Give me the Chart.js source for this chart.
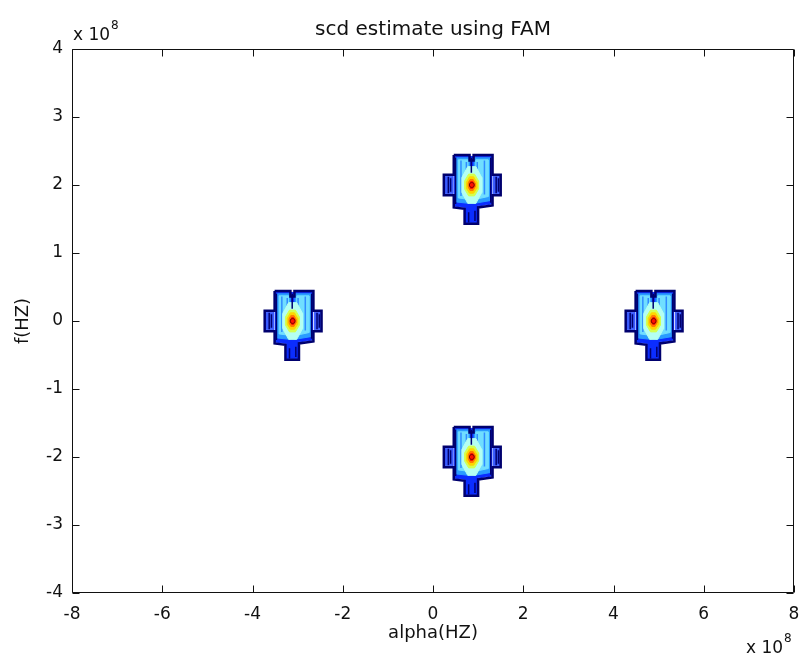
<!DOCTYPE html>
<html><head><meta charset="utf-8">
<script src="https://cdn.jsdelivr.net/npm/chart.js@4/dist/chart.umd.min.js"></script>
<style>html,body{margin:0;padding:0;background:#fff;}#wrap{width:799px;height:655px;}</style>
</head><body><div id="wrap"><canvas id="c" width="799" height="655"></canvas></div>
<script>
// ---- text ----
const chartTitle = 'scd estimate using FAM';
const xAxisLabel = 'alpha(HZ)';
const yAxisLabel = 'f(HZ)';
const axisExponent = '8';
// ---- tick values (units of 1e8 Hz) ----
const xTickValues = [-8, -6, -4, -2, 0, 2, 4, 6, 8];
const yTickValues = [-4, -3, -2, -1, 0, 1, 2, 3, 4];
// ---- cluster centres (alpha, f) in units of 1e8 Hz ----
const clusterAlpha = [0.84, -3.13, 4.87, 0.84];
const clusterFreq  = [2.0, 0.0, 0.0, -2.0];
// ---- contour level outlines, offsets (alpha, f) from each centre ----
const contourOuter = [[-0.38,0.44],[-0.03,0.44],[-0.03,0.36],[0.06,0.36],[0.06,0.44],[0.48,0.44],[0.48,0.15],[0.66,0.15],[0.66,-0.15],[0.48,-0.15],[0.48,-0.30],[0.16,-0.33],[0.16,-0.57],[-0.14,-0.57],[-0.14,-0.35],[-0.38,-0.33],[-0.38,-0.15],[-0.60,-0.15],[-0.60,0.15],[-0.38,0.15],[-0.38,0.44]];
const contourInnerLines = [
  [[-0.50,0.12],[-0.50,-0.12]],
  [[-0.45,0.10],[-0.45,-0.10]],
  [[0.56,0.12],[0.56,-0.12]],
  [[0.61,0.10],[0.61,-0.10]],
  [[0.01,0.40],[0.01,0.18]],
  [[-0.34,0.40],[-0.34,-0.28]],
  [[0.44,0.40],[0.44,-0.26]],
  [[-0.05,-0.40],[-0.05,-0.55]],
  [[0.09,-0.38],[0.09,-0.53]]
];
const contourStripes = [
  [[-0.22,0.36],[-0.22,-0.16]],
  [[0.30,0.36],[0.30,-0.14]],
  [[-0.10,0.34],[-0.10,0.22]],
  [[0.14,0.34],[0.14,0.22]]
];
const contourWingLeft  = [[-0.58,0.13],[-0.40,0.13],[-0.40,-0.13],[-0.58,-0.13],[-0.58,0.13]];
const contourWingRight = [[0.50,0.13],[0.64,0.13],[0.64,-0.13],[0.50,-0.13],[0.50,0.13]];
const contourBody = [[-0.36,0.42],[0.46,0.42],[0.46,-0.28],[0.14,-0.31],[0.14,-0.55],[-0.12,-0.55],[-0.12,-0.33],[-0.36,-0.31],[-0.36,0.42]];
const contourMidLeft  = [[-0.32,0.40],[-0.04,0.40],[-0.04,-0.27],[-0.32,-0.25],[-0.32,0.40]];
const contourMidRight = [[0.07,0.40],[0.42,0.40],[0.42,-0.23],[0.07,-0.27],[0.07,0.40]];
const contourLightLeft  = [[-0.28,0.37],[-0.07,0.37],[-0.07,-0.21],[-0.28,-0.19],[-0.28,0.37]];
const contourLightRight = [[0.11,0.37],[0.38,0.37],[0.38,-0.17],[0.11,-0.21],[0.11,0.37]];
const contourPale   = [[-0.07,0.27],[0.11,0.27],[0.24,0.11],[0.24,-0.11],[0.11,-0.27],[-0.07,-0.27],[-0.20,-0.11],[-0.20,0.11],[-0.07,0.27]];
const contourGreen  = [[-0.05,0.16],[0.08,0.16],[0.17,0.06],[0.17,-0.06],[0.08,-0.16],[-0.05,-0.16],[-0.14,-0.06],[-0.14,0.06],[-0.05,0.16]];
const contourYellow = [[-0.03,0.12],[0.06,0.12],[0.13,0.04],[0.13,-0.05],[0.06,-0.12],[-0.03,-0.12],[-0.10,-0.05],[-0.10,0.04],[-0.03,0.12]];
const contourOrange = [[-0.02,0.08],[0.05,0.08],[0.09,0.03],[0.09,-0.03],[0.05,-0.08],[-0.02,-0.08],[-0.06,-0.03],[-0.06,0.03],[-0.02,0.08]];
const contourRed    = [[0.00,0.05],[0.04,0.05],[0.06,0.02],[0.06,-0.02],[0.04,-0.05],[0.00,-0.05],[-0.02,-0.02],[-0.02,0.02],[0.00,0.05]];

// filled levels: [shape, colour, draw order (higher = further back)]
const filledLevels = [
  [contourWingLeft, '#3a5cff', 10], [contourWingRight, '#3a5cff', 10],
  [contourBody, '#0b2dff', 9],
  [contourMidLeft, '#2a9cff', 8], [contourMidRight, '#2a9cff', 8],
  [contourLightLeft, '#70deff', 7], [contourLightRight, '#70deff', 7],
  [contourPale, '#b4fff2', 6],
  [contourGreen, '#d4ff50', 5],
  [contourYellow, '#ffd400', 4],
  [contourOrange, '#ff7a00', 3],
  [contourRed, '#ff1000', 2]
];

function place(shape, cx, cy) { return shape.map(p => ({x: cx + p[0], y: cy + p[1]})); }

const datasets = [];
for (let i = 0; i < clusterAlpha.length; i++) {
  const cx = clusterAlpha[i], cy = clusterFreq[i];
  filledLevels.forEach(([shape, col, ord]) => {
    datasets.push({data: place(shape, cx, cy), showLine: true, fill: 'shape', backgroundColor: col,
      borderColor: col, borderWidth: 1, pointRadius: 0, order: ord});
  });
  contourStripes.forEach(seg => {
    datasets.push({data: place(seg, cx, cy), showLine: true, fill: false, borderColor: '#2f8cff',
      borderWidth: 1.5, pointRadius: 0, order: 6.5});
  });
  datasets.push({data: place(contourOuter, cx, cy), showLine: true, fill: false, borderColor: '#00006e',
    borderWidth: 2.5, pointRadius: 0, order: 1});
  contourInnerLines.forEach(seg => {
    datasets.push({data: place(seg, cx, cy), showLine: true, fill: false, borderColor: '#00006e',
      borderWidth: 1.5, pointRadius: 0, order: 1});
  });
  datasets.push({data: [{x: cx + 0.02, y: cy}], showLine: false, pointRadius: 2.5, pointBorderWidth: 1,
    pointBorderColor: '#7a0000', pointBackgroundColor: 'rgba(0,0,0,0)', order: 0});
}

const FONT = 'DejaVu Sans';
const matlabAxes = {
  id: 'matlabAxes',
  afterDraw(chart) {
    const {ctx, chartArea: a, scales: {x, y}} = chart;
    ctx.save();
    ctx.strokeStyle = '#111';
    ctx.lineWidth = 1;
    const L = Math.round(a.left) + 0.5, R = Math.round(a.right) - 0.5;
    const T = Math.round(a.top) + 0.5, B = Math.round(a.bottom) - 0.5;
    ctx.beginPath();
    ctx.rect(L, T, R - L, B - T);
    xTickValues.forEach(v => {
      const px = Math.round(x.getPixelForValue(v)) + 0.5;
      ctx.moveTo(px, B); ctx.lineTo(px, B - 7);
      ctx.moveTo(px, T); ctx.lineTo(px, T + 7);
    });
    yTickValues.forEach(v => {
      const py = Math.round(y.getPixelForValue(v)) + 0.5;
      ctx.moveTo(L, py); ctx.lineTo(L + 7, py);
      ctx.moveTo(R, py); ctx.lineTo(R - 7, py);
    });
    ctx.stroke();
    ctx.fillStyle = '#111';
    // title, centred over the plot area
    ctx.textAlign = 'center';
    ctx.textBaseline = 'alphabetic';
    ctx.font = '20px "' + FONT + '"';
    ctx.fillText(chartTitle, (a.left + a.right) / 2, 35);
    // exponent labels
    ctx.textAlign = 'left';
    ctx.font = '17px "' + FONT + '"';
    const base = 'x 10';
    const w = ctx.measureText(base).width;
    const tlx = a.left + 1, tly = a.top - 9;
    ctx.fillText(base, tlx, tly);
    const brx = a.right - 48, bry = 653;
    ctx.fillText(base, brx, bry);
    ctx.font = '12px "' + FONT + '"';
    ctx.fillText(axisExponent, tlx + w + 1, tly - 11);
    ctx.fillText(axisExponent, brx + w + 1, bry - 11);
    ctx.restore();
  }
};

new Chart(document.getElementById('c'), {
  type: 'scatter',
  data: {datasets},
  options: {
    responsive: false,
    animation: false,
    devicePixelRatio: 1,
    layout: {padding: {top: 49, right: 5, left: 0, bottom: 0}},
    plugins: {
      legend: {display: false},
      tooltip: {enabled: false},
      title: {display: false}
    },
    scales: {
      x: {
        type: 'linear', min: -8, max: 8,
        afterBuildTicks: s => { s.ticks = xTickValues.map(v => ({value: v})); },
        afterFit: s => { s.height = 62; s.paddingLeft = 0; s.paddingRight = 0; },
        grid: {display: false, drawTicks: false},
        border: {display: false},
        ticks: {color: '#111', font: {family: FONT, size: 17}, padding: 11, maxRotation: 0,
          callback: v => String(v)},
        title: {display: true, text: xAxisLabel, color: '#111', font: {family: FONT, size: 18},
          padding: {top: 0, bottom: 11}}
      },
      y: {
        type: 'linear', min: -4, max: 4,
        afterBuildTicks: s => { s.ticks = yTickValues.map(v => ({value: v})); },
        afterFit: s => { s.width = 72; s.paddingTop = 0; s.paddingBottom = 0; },
        grid: {display: false, drawTicks: false},
        border: {display: false},
        ticks: {color: '#111', font: {family: FONT, size: 17}, padding: 9,
          callback: v => String(v)},
        title: {display: true, text: yAxisLabel, color: '#111', font: {family: FONT, size: 18},
          padding: {top: 13, bottom: 0}}
      }
    }
  },
  plugins: [matlabAxes]
});
</script></body></html>
